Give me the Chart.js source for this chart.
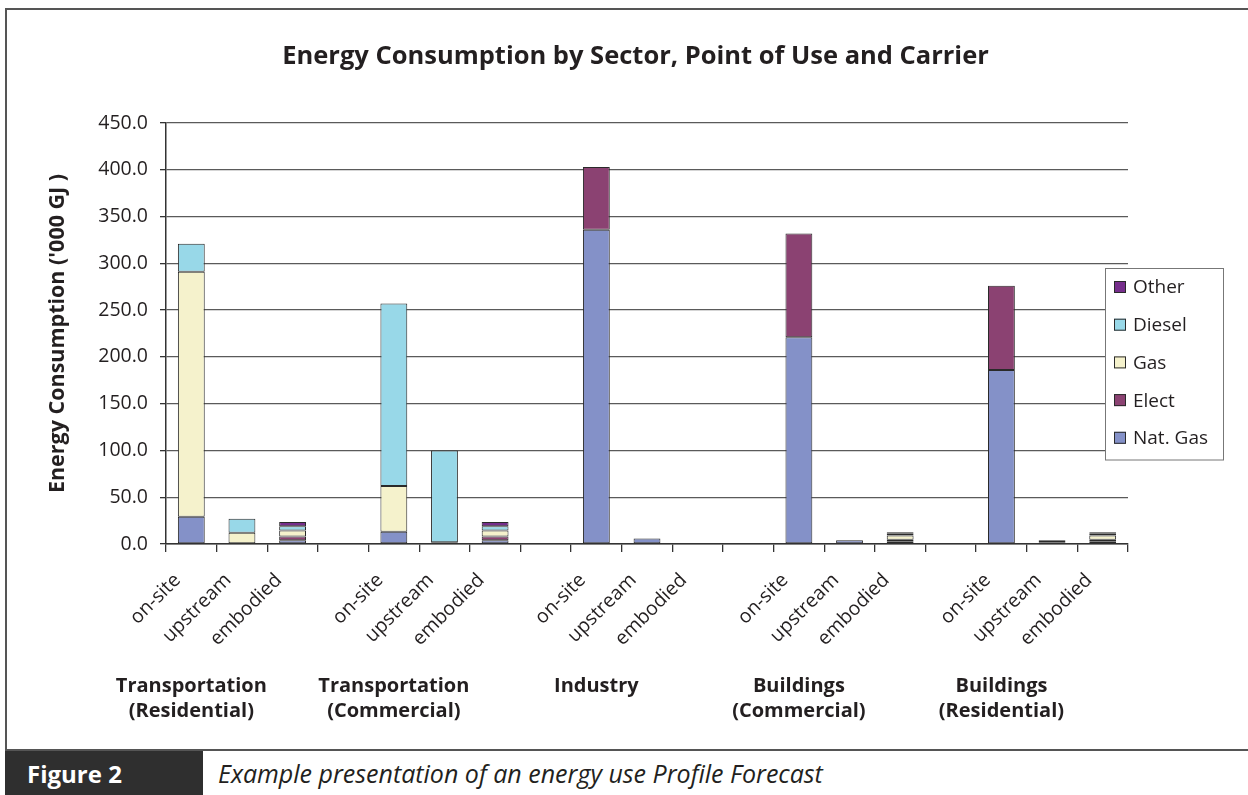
<!DOCTYPE html>
<html>
<head>
<meta charset="utf-8">
<title>Energy Consumption by Sector</title>
<script src="https://cdn.jsdelivr.net/npm/chart.js@4.4.1/dist/chart.umd.min.js"></script>
<style>
  body { margin: 0; background: #fff; font-family: "Open Sans", sans-serif; }
  #wrap { position: relative; width: 1248px; height: 795px; overflow: hidden; }
  #frame {
    position: absolute; left: 5px; top: 8px; width: 1250px; height: 743px;
    border-left: 2px solid #555; border-top: 2px solid #555; border-bottom: 2px solid #555;
    box-sizing: border-box;
  }
  #chart { position: absolute; left: 0; top: 0; }
  #fig {
    position: absolute; left: 5px; top: 751px; width: 198px; height: 44px;
    background: #2f2f2f; color: #fff; font: bold 24px "Open Sans", sans-serif;
    display: flex; align-items: center; padding-left: 22px; box-sizing: border-box;
  }
  #caption {
    position: absolute; left: 218px; top: 751px; height: 44px;
    display: flex; align-items: center;
    font: italic 25px "Open Sans", sans-serif; color: #231f20;
  }
</style>
</head>
<body>
<div id="wrap">
  <div id="frame"></div>
  <canvas id="chart" width="1248" height="750"></canvas>
  <div id="fig">Figure 2</div>
  <div id="caption">Example presentation of an energy use Profile Forecast</div>
</div>

<script>
// point of use for each bar, blank slots separate the sectors
const categories = [
    'on-site', 'upstream', 'embodied', '',
    'on-site', 'upstream', 'embodied', '',
    'on-site', 'upstream', 'embodied', '',
    'on-site', 'upstream', 'embodied', '',
    'on-site', 'upstream', 'embodied'
];

// sector names, shown under the first bar of each group
const sectorLabels = [
    ['Transportation', '(Residential)'], '', '', '',
    ['Transportation', '(Commercial)'], '', '', '',
    'Industry', '', '', '',
    ['Buildings', '(Commercial)'], '', '', '',
    ['Buildings', '(Residential)'], '', ''
];

// '000 GJ by carrier
const natGas = [29, null, 4, null, 13, null, 4, null, 336, 6, null, null, 221, 4, 3, null, 186, 2, 3];
const elect  = [null, null, 4, null, null, null, 4, null, 67, null, null, null, 111, null, 1.5, null, 90, 2, 1.5];
const gas    = [262, 12, 6.5, null, 49, 2, 6.5, null, null, null, null, null, null, null, 4.5, null, null, null, 4.5];
const diesel = [30, 15, 4.5, null, 195, 98, 4.5, null, null, null, null, null, null, null, 2, null, null, null, 2];
const other  = [null, null, 4.5, null, null, null, 4.5, null, null, null, null, null, null, null, 1.5, null, null, null, 1.5];

const yTicks = [0, 50, 100, 150, 200, 250, 300, 350, 400, 450];

const ink = '#231f20';
const face = '"Open Sans", sans-serif';
Chart.defaults.font.family = face;
Chart.defaults.color = ink;

function series(label, data, color) {
    return {
        label: label,
        data: data,
        backgroundColor: color,
        borderColor: '#2a2a2a',
        borderWidth: 1,
        borderSkipped: false
    };
}

// boxed legend that sits over the right end of the plot
const boxLegend = {
    id: 'boxLegend',
    afterDraw(chart) {
        const ctx = chart.ctx;
        const area = chart.chartArea;
        const items = chart.data.datasets.slice().reverse();
        const left = area.right - 23;
        const top = area.top + 145;
        const rowH = 37.7;
        const w = 118;
        const h = rowH * items.length + 3;

        ctx.save();
        ctx.fillStyle = '#fff';
        ctx.fillRect(left, top, w, h);
        ctx.strokeStyle = '#777';
        ctx.lineWidth = 1;
        ctx.strokeRect(left + 0.5, top + 0.5, w, h);

        ctx.font = '19px ' + face;
        ctx.textBaseline = 'middle';
        items.forEach((ds, i) => {
            const cy = top + 19 + i * rowH;
            ctx.fillStyle = ds.backgroundColor;
            ctx.fillRect(left + 9, cy - 6, 12, 12);
            ctx.strokeStyle = '#2a2a2a';
            ctx.strokeRect(left + 9.5, cy - 5.5, 11, 11);
            ctx.fillStyle = ink;
            ctx.fillText(ds.label, left + 28, cy + 1);
        });
        ctx.restore();
    }
};

new Chart(document.querySelector('#chart'), {
    type: 'bar',
    data: {
        labels: categories,
        datasets: [
            series('Nat. Gas', natGas, '#8491c8'),
            series('Elect', elect, '#8b4272'),
            series('Gas', gas, '#f5f2cc'),
            series('Diesel', diesel, '#98d8e8'),
            series('Other', other, '#762e8c')
        ]
    },
    options: {
        responsive: false,
        animation: false,
        categoryPercentage: 1,
        barPercentage: 0.53,
        layout: { padding: { left: 43, right: 20, top: 0, bottom: 24 } },
        plugins: {
            legend: { display: false },
            tooltip: { enabled: false },
            title: {
                display: true,
                text: 'Energy Consumption by Sector, Point of Use and Carrier',
                color: ink,
                font: { size: 25.5, weight: 'bold' },
                padding: { top: 41.7, bottom: 50.7 }
            }
        },
        scales: {
            x: {
                stacked: true,
                offset: true,
                grid: { offset: true, drawOnChartArea: false, tickLength: 8, color: '#333', lineWidth: 1.3 },
                border: { color: '#333', width: 1.5 },
                ticks: {
                    autoSkip: false, maxRotation: 45, minRotation: 45, padding: 3,
                    font: { size: 19.5 },
                    // em space pulls the rotated text back from the tick
                    callback: (v, i) => categories[i] + '\u2003'
                },
                afterFit(s) { s.height = 120; }
            },
            x2: {
                type: 'category',
                labels: sectorLabels,
                position: 'bottom',
                offset: true,
                grid: { display: false, drawTicks: false },
                border: { display: false },
                ticks: { autoSkip: false, maxRotation: 0, padding: 10, font: { size: 20, weight: 'bold', lineHeight: 1.25 } },
                afterFit(s) { s.height = 62; }
            },
            y: {
                stacked: true,
                min: 0,
                max: 450,
                afterBuildTicks(s) { s.ticks = yTicks.map(v => ({ value: v })); },
                ticks: { padding: 12, font: { size: 19.5 }, callback: v => v.toFixed(1) },
                grid: { color: '#5a5a5a', lineWidth: 1.3, tickLength: 6, tickColor: '#333' },
                border: { color: '#333', width: 1.5 },
                title: {
                    display: true,
                    text: "Energy Consumption ('000 GJ )",
                    font: { size: 21.5, weight: 'bold' },
                    padding: { top: 2, bottom: 0 }
                },
                afterFit(s) { s.width = 123; }
            },
            // empty right-hand axis that keeps room for the legend box
            legendRoom: {
                type: 'linear',
                position: 'right',
                display: true,
                grid: { display: false, drawTicks: false },
                border: { display: false },
                ticks: { display: false },
                afterFit(s) { s.width = 100; }
            }
        }
    },
    plugins: [boxLegend]
});
</script>
</body>
</html>
